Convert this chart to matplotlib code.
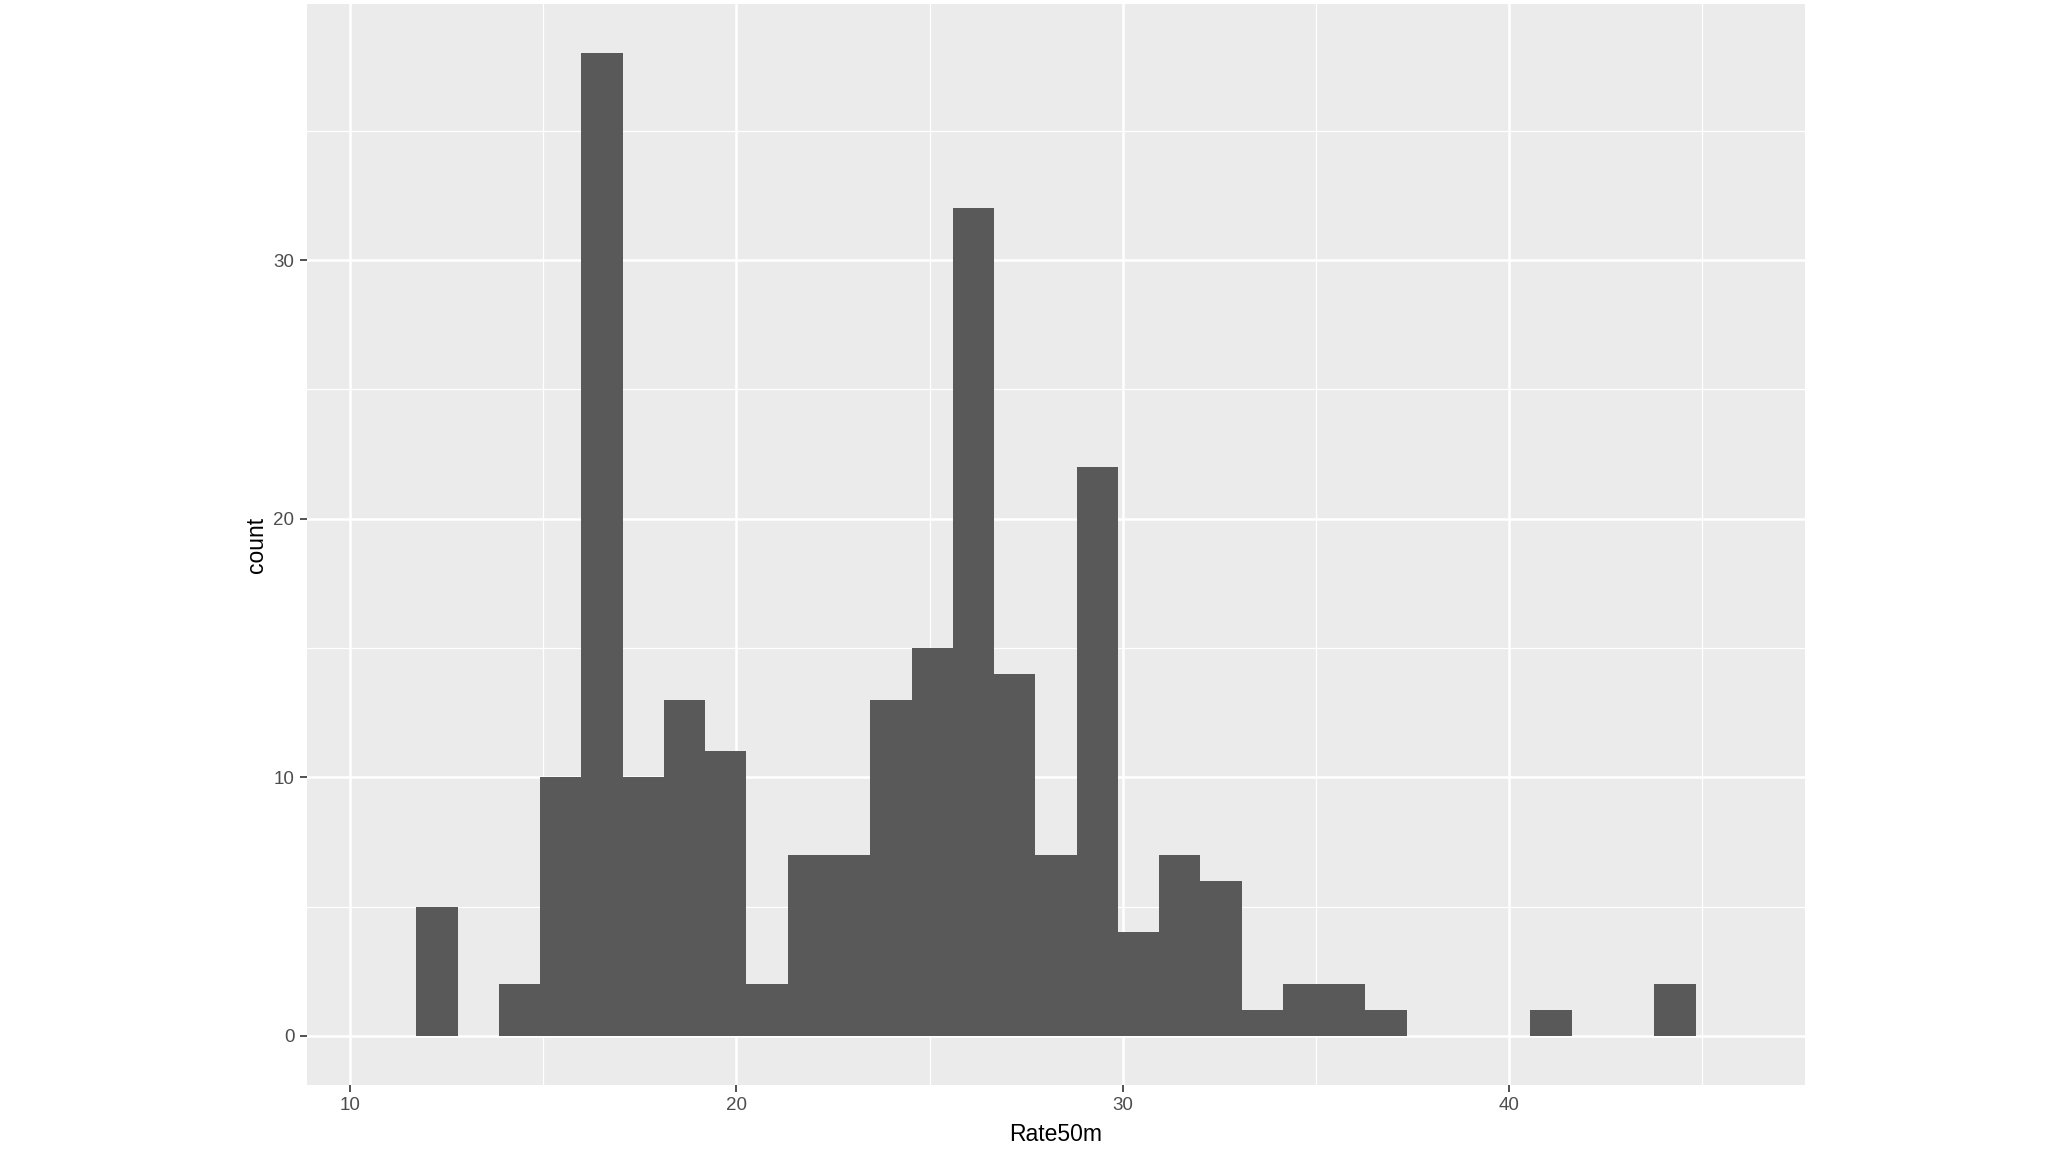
import numpy as np
import matplotlib
matplotlib.use('Agg')
import matplotlib.pyplot as plt

# histogram of Rate50m, counts
bin_start = 10.65
bin_width = 1.068
counts = [0, 5, 0, 2, 10, 38, 10, 13, 11, 2, 7, 7, 13, 15, 32, 14, 7, 22,
          4, 7, 6, 1, 2, 2, 1, 0, 0, 0, 1, 0, 0, 2, 0]
x_ticks = [10, 20, 30, 40]
y_ticks = [0, 10, 20, 30]

plt.rcParams['font.family'] = ['Liberation Sans', 'DejaVu Sans']

edges = bin_start + bin_width * np.arange(len(counts) + 1)

fig = plt.figure(figsize=(20.48, 11.52), dpi=100)
fig.patch.set_facecolor('white')
ax = fig.add_axes([0.1499, 0.0582, 0.7314, 0.9383])
ax.set_facecolor('#EBEBEB')

ax.bar(edges[:-1], counts, width=bin_width, align='edge', color='#595959',
       edgecolor='none', zorder=3)

# ggplot style expansion of 5%
xr = edges[-1] - edges[0]
ax.set_xlim(edges[0] - 0.05 * xr, edges[-1] + 0.05 * xr)
ymax = max(counts)
ax.set_ylim(-0.05 * ymax, ymax * 1.05)

ax.set_xticks(x_ticks)
ax.set_yticks(y_ticks)
ax.set_xticks([15, 25, 35, 45], minor=True)
ax.set_yticks([5, 15, 25, 35], minor=True)
ax.grid(which='major', color='white', linewidth=1.8, zorder=1)
ax.grid(which='minor', color='white', linewidth=0.9, zorder=1)
ax.set_axisbelow(True)

for s in ax.spines.values():
    s.set_visible(False)

ax.tick_params(which='major', length=5, width=1.2, color='#333333',
               labelsize=13.5, labelcolor='#4D4D4D', pad=4)
ax.tick_params(which='minor', length=0)

ax.set_xlabel('Rate50m', fontsize=16.5, color='black', labelpad=6)
ax.set_ylabel('count', fontsize=16.5, color='black', labelpad=4)

fig.savefig('out.png', dpi=100)
